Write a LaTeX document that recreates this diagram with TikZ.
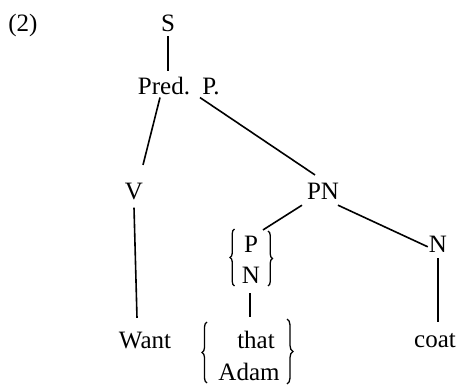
\documentclass[tikz,border=0pt]{standalone}
\usepackage{fontspec}
\setmainfont{Liberation Serif}
\usetikzlibrary{decorations.pathreplacing}
\begin{document}
\begin{tikzpicture}[x=1pt,y=-1pt,
  lbl/.style={inner sep=0pt,anchor=base,font=\fontsize{25}{29}\selectfont},
  edge/.style={line width=1.6pt},
  brc/.style={line width=1.3pt,decorate,decoration={brace,amplitude=#1}}]
\useasboundingbox (0,0) rectangle (458,385);
\fill[white] (0,0) rectangle (458,385);
% nodes
\node[lbl] (num) at (23,32) {(2)};
\node[lbl] (s) at (168,32) {S};
\node[lbl] (pred) at (164,95) {Pred.};
\node[lbl] (p) at (211,95) {P.};
\node[lbl] (v) at (134,200) {V};
\node[lbl] (pn) at (323,200) {PN};
\node[lbl] (pp) at (251,252) {P};
\node[lbl] (pnn) at (251,283) {N};
\node[lbl] (n) at (438,252) {N};
\node[lbl] (want) at (145,348) {Want};
\node[lbl] (that) at (256,348) {that};
\node[lbl] (adam) at (249,380) {Adam};
\node[lbl] (coat) at (435,347) {coat};
% braces
\draw[brc=4.5pt] (234.5,286) -- (234.5,229);
\draw[brc=4.5pt] (268,231) -- (268,286);
\draw[brc=5pt] (207,383) -- (207,322);
\draw[brc=6pt] (287,319) -- (287,384);
% connectors
\draw[edge] ([shift={(0,4)}]s.south) -- ([shift={(4,-6)}]pred.north);
\draw[edge] ([shift={(-4,2)}]pred.south) -- ([shift={(9,-18.5)}]v.north);
\draw[edge] ([shift={(0,7)}]v.south) -- ([shift={(-8,-13.5)}]want.north);
\draw[edge] ([shift={(-11,2)}]p.south) -- ([shift={(-8,-8.5)}]pn.north);
\draw[edge] ([shift={(-21,5)}]pn.south) -- ([shift={(12,-5.5)}]pp.north);
\draw[edge] ([shift={(15,5)}]pn.south) -- ([shift={(-1,3)}]n.west);
\draw[edge] ([shift={(0,6)}]n.south) -- ([shift={(3,-10.5)}]coat.north);
\draw[edge] ([shift={(-1,10)}]pnn.south) -- ([shift={(-6,-13)}]that.north);
\end{tikzpicture}
\end{document}
